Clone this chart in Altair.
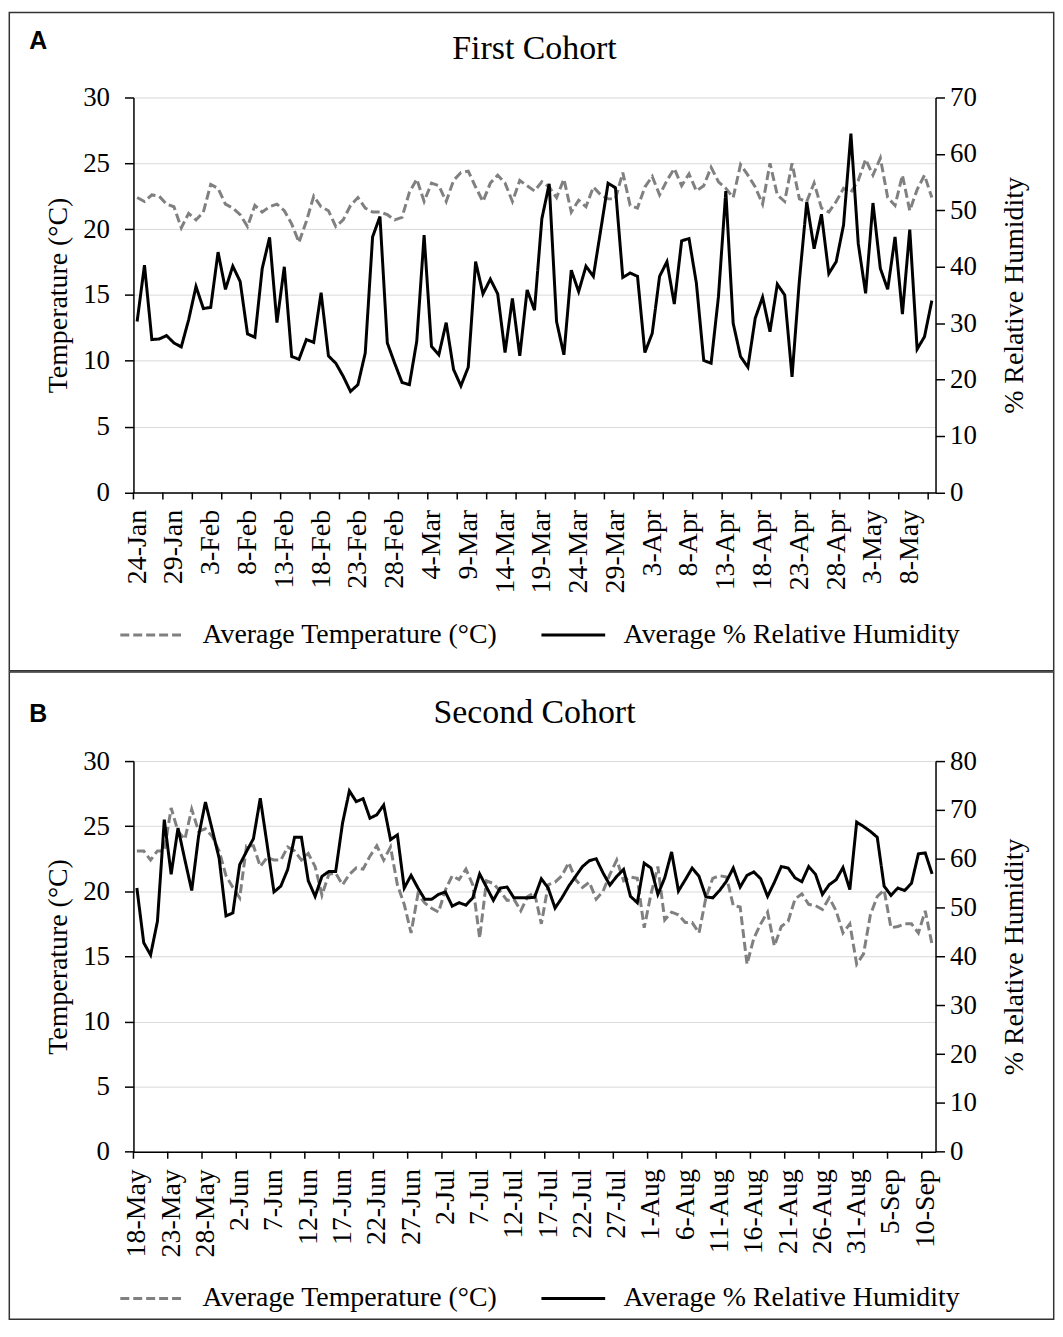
import altair as alt
import pandas as pd

SERIF = "Liberation Serif"
SANS = "Liberation Sans"
TEMP_NAME = "Average Temperature (°C)"
RH_NAME = "Average % Relative Humidity"

# ---------------- Panel A : First Cohort (daily, from 24-Jan-2020) ----------------
a_start = "2020-01-24"
a_temp = [22.4, 22.1, 22.6, 22.5, 21.9, 21.7, 20.1, 21.2, 20.7, 21.3,
          23.4, 23.1, 21.9, 21.6, 21.1, 20.2, 21.8, 21.3, 21.7, 21.9,
          21.4, 20.4, 19.0, 20.6, 22.5, 21.7, 21.4, 20.2, 20.7, 21.8,
          22.4, 21.6, 21.3, 21.3, 21.1, 20.7, 20.9, 22.8, 23.8, 22.1,
          23.5, 23.3, 22.1, 23.7, 24.3, 24.4, 23.2, 22.1, 23.5, 24.1,
          23.5, 22.1, 23.7, 23.3, 22.9, 23.6, 23.2, 22.4, 23.8, 21.3,
          22.2, 21.7, 23.2, 22.6, 22.3, 22.3, 24.3, 21.8, 21.6, 23.2,
          24.0, 22.6, 23.7, 24.6, 23.3, 24.2, 22.9, 23.3, 24.7, 23.6,
          23.1, 22.4, 24.9, 24.1, 23.2, 21.9, 25.0, 22.6, 22.1, 25.0,
          22.3, 22.1, 23.5, 21.6, 21.3, 22.1, 23.1, 22.8, 23.7, 25.3,
          24.1, 25.4, 22.4, 21.8, 24.1, 21.4, 23.0, 24.1, 22.4]
a_rh = [30.3, 40.3, 27.1, 27.2, 27.8, 26.5, 25.8, 30.6, 36.5, 32.6,
        32.8, 42.6, 36.0, 40.1, 37.4, 28.1, 27.5, 39.7, 45.2, 30.1,
        40.0, 24.1, 23.6, 27.1, 26.6, 35.4, 24.2, 22.9, 20.6, 17.9,
        19.1, 24.7, 45.3, 48.9, 26.5, 22.9, 19.5, 19.1, 26.8, 45.6,
        25.9, 24.4, 30.1, 21.8, 18.9, 22.2, 40.9, 35.2, 37.8, 35.2,
        24.8, 34.4, 24.2, 35.9, 32.3, 48.5, 54.7, 30.3, 24.4, 39.4,
        35.6, 40.1, 38.3, 46.5, 54.8, 54.0, 38.1, 38.9, 38.3, 24.8,
        28.2, 38.3, 40.9, 33.4, 44.6, 45.0, 37.1, 23.4, 22.9, 34.7,
        53.4, 30.0, 24.1, 22.2, 30.9, 34.6, 28.5, 36.9, 35.0, 20.5,
        37.6, 51.5, 43.2, 49.3, 38.8, 40.9, 47.4, 63.6, 44.1, 35.3,
        51.3, 39.7, 36.0, 45.3, 31.6, 46.6, 25.4, 27.6, 34.0]
a_labels = ["24-Jan", "29-Jan", "3-Feb", "8-Feb", "13-Feb", "18-Feb", "23-Feb",
            "28-Feb", "4-Mar", "9-Mar", "14-Mar", "19-Mar", "24-Mar", "29-Mar",
            "3-Apr", "8-Apr", "13-Apr", "18-Apr", "23-Apr", "28-Apr", "3-May", "8-May"]
a_temp_ticks = [0, 5, 10, 15, 20, 25, 30]
a_rh_ticks = [0, 10, 20, 30, 40, 50, 60, 70]

# ---------------- Panel B : Second Cohort (daily, from 18-May-2020) ----------------
b_start = "2020-05-18"
b_temp = [23.1, 23.1, 22.4, 23.1, 23.1, 26.4, 24.6, 24.0, 26.3, 24.6,
          24.8, 24.2, 23.1, 21.2, 20.3, 19.5, 23.5, 23.5, 21.9, 22.6,
          22.4, 22.4, 23.4, 23.1, 22.4, 22.9, 21.9, 19.7, 21.3, 21.4,
          20.5, 21.3, 21.8, 21.7, 22.7, 23.5, 22.4, 23.4, 20.5, 19.0,
          16.8, 19.8, 19.1, 18.7, 18.4, 20.1, 21.2, 20.9, 21.7, 20.5,
          16.4, 20.8, 20.6, 20.0, 19.3, 19.4, 18.5, 19.6, 19.9, 17.5,
          20.5, 20.7, 21.2, 22.2, 20.9, 20.3, 20.7, 19.4, 20.0, 21.3,
          22.4, 20.8, 21.1, 21.0, 17.2, 19.8, 21.9, 17.8, 18.4, 18.2,
          17.6, 17.6, 16.8, 19.5, 21.0, 21.2, 21.1, 18.9, 18.8, 14.4,
          16.4, 17.5, 18.4, 15.8, 17.3, 17.7, 19.4, 19.8, 19.0, 18.9,
          18.6, 19.5, 18.5, 16.8, 17.5, 14.4, 15.2, 18.2, 19.6, 20.1,
          17.2, 17.3, 17.5, 17.5, 16.8, 18.5, 15.9]
b_rh = [54.0, 42.8, 40.3, 47.2, 68.0, 56.8, 66.3, 59.8, 53.5, 64.6,
        71.6, 65.9, 60.1, 48.3, 48.9, 58.8, 61.5, 64.1, 72.4, 62.9,
        53.2, 54.4, 57.8, 64.4, 64.4, 55.5, 52.3, 56.4, 57.4, 57.4,
        67.3, 73.9, 71.7, 72.3, 68.3, 69.0, 71.0, 63.9, 64.9, 54.0,
        56.6, 54.0, 51.7, 51.7, 52.7, 53.2, 50.3, 51.0, 50.5, 52.0,
        56.9, 54.2, 51.5, 54.0, 54.2, 52.0, 52.0, 52.0, 52.1, 55.9,
        54.0, 49.9, 52.0, 54.4, 56.4, 58.4, 59.6, 60.0, 57.1, 54.6,
        56.4, 57.8, 52.3, 51.0, 59.1, 58.1, 52.7, 56.1, 61.4, 53.4,
        55.7, 58.1, 56.4, 52.2, 52.0, 53.5, 55.4, 58.1, 54.2, 56.6,
        57.3, 55.9, 52.3, 55.2, 58.4, 58.1, 56.1, 55.3, 58.4, 56.8,
        52.7, 54.7, 55.7, 58.2, 53.7, 67.5, 66.6, 65.6, 64.4, 54.4,
        52.5, 54.0, 53.5, 55.0, 61.0, 61.2, 56.9]
b_labels = ["18-May", "23-May", "28-May", "2-Jun", "7-Jun", "12-Jun", "17-Jun",
            "22-Jun", "27-Jun", "2-Jul", "7-Jul", "12-Jul", "17-Jul", "22-Jul",
            "27-Jul", "1-Aug", "6-Aug", "11-Aug", "16-Aug", "21-Aug", "26-Aug",
            "31-Aug", "5-Sep", "10-Sep"]
b_temp_ticks = [0, 5, 10, 15, 20, 25, 30]
b_rh_ticks = [0, 10, 20, 30, 40, 50, 60, 70, 80]

DAY = 24 * 3600 * 1000
HALF = DAY // 2


def panel(letter, title, start, temp, rh, labels, tick_every, temp_ticks, rh_ticks,
          width, height, border_top, border_bottom, letter_y):
    n = len(temp)
    dates = pd.date_range(start, periods=n, freq="D", tz="UTC")
    ms = [int(v) for v in (dates.asi8 // 10**6)]
    year = dates[0].year
    df = pd.DataFrame({"date": ms, "temp": temp, "rh": rh})
    label_ms = [int(pd.to_datetime(f"{l}-{year}", format="%d-%b-%Y", utc=True).value // 10**6)
                for l in labels]
    tick_df = pd.DataFrame({"date": [ms[i] - HALF for i in range(0, n, tick_every)]})

    xscale = alt.Scale(type="utc", domain=[ms[0] - HALF, ms[-1] + HALF], nice=False)
    xaxis = alt.Axis(values=label_ms, labelExpr="utcFormat(datum.value, '%-d-%b')",
                     labelAngle=270, ticks=False, grid=False, domainColor="black",
                     domainWidth=1.5, labelFont=SERIF, labelFontSize=28, labelColor="black",
                     labelPadding=17, labelFlush=False, labelOverlap=False, title=None)

    cscale = alt.Scale(domain=[TEMP_NAME, RH_NAME], range=["#808080", "#000000"])
    dscale = alt.Scale(domain=[TEMP_NAME, RH_NAME], range=[[9, 4], [1, 0]])
    legend = alt.Legend(title=None, orient="none", legendX=-14.7, legendY=506,
                        direction="horizontal", symbolType="stroke", symbolSize=4096,
                        symbolStrokeWidth=3, labelFont=SERIF, labelFontSize=28,
                        labelColor="black", labelLimit=600, labelOffset=17,
                        columnPadding=37, padding=0)

    axis_common = dict(domainColor="black", domainWidth=1.5, tickColor="black",
                       tickWidth=1.5, tickSize=9, labelFont=SERIF, labelFontSize=27,
                       labelColor="black", titleFont=SERIF, titleFontSize=28,
                       titleFontWeight="normal", titleColor="black", titleAngle=270,
                       titleY=height / 2, titleAlign="center", titleBaseline="middle")

    temp_line = alt.Chart(df).transform_calculate(
        series=f"'{TEMP_NAME}'"
    ).mark_line(strokeWidth=3).encode(
        x=alt.X("date:T", scale=xscale, axis=xaxis),
        y=alt.Y("temp:Q", scale=alt.Scale(domain=[0, 30], nice=False),
                axis=alt.Axis(values=temp_ticks, orient="left", grid=True,
                              gridColor="#d9d9d9", gridWidth=1, labelPadding=15,
                              title="Temperature (°C)", titleX=-75.7, **axis_common)),
        color=alt.Color("series:N", scale=cscale, legend=legend),
        strokeDash=alt.StrokeDash("series:N", scale=dscale, legend=legend),
    )

    rh_line = alt.Chart(df).transform_calculate(
        series=f"'{RH_NAME}'"
    ).mark_line(strokeWidth=3).encode(
        x=alt.X("date:T", scale=xscale, axis=xaxis),
        y=alt.Y("rh:Q", scale=alt.Scale(domain=[0, rh_ticks[-1]], nice=False),
                axis=alt.Axis(values=rh_ticks, orient="right", grid=False,
                              labelPadding=5, title="% Relative Humidity",
                              titleX=79.7, **axis_common)),
        color=alt.Color("series:N", scale=cscale, legend=legend),
        strokeDash=alt.StrokeDash("series:N", scale=dscale, legend=legend),
    )

    ticks = alt.Chart(tick_df).mark_rule(color="black", strokeWidth=1.5).encode(
        x=alt.X("date:T", scale=xscale, axis=xaxis),
        y=alt.value(height),
        y2=alt.value(height + 7),
    )

    title_layer = alt.Chart(pd.DataFrame({"t": [title]})).mark_text(
        font=SERIF, fontSize=34, color="black", align="center", baseline="alphabetic"
    ).encode(text="t:N", x=alt.value(width / 2), y=alt.value(-38.3))

    letter_layer = alt.Chart(pd.DataFrame({"t": [letter]})).mark_text(
        font=SANS, fontSize=25, fontWeight="bold", color="black", align="left",
        baseline="alphabetic"
    ).encode(text="t:N", x=alt.value(-104.7), y=alt.value(letter_y))

    border = alt.Chart(pd.DataFrame({"b": [0]})).mark_rect(
        filled=False, color="#333333", strokeWidth=1.5
    ).encode(x=alt.value(-124.7), x2=alt.value(924.3),
             y=alt.value(border_top), y2=alt.value(border_bottom))

    return alt.layer(border, temp_line, rh_line, ticks, title_layer, letter_layer).resolve_scale(
        y="independent"
    ).properties(width=width, height=height)


pa = panel("A", "First Cohort", a_start, a_temp, a_rh, a_labels, 4, a_temp_ticks, a_rh_ticks,
           805.6, 396.7, -85.3, 575.7, -48.3)
pb = panel("B", "Second Cohort", b_start, b_temp, b_rh, b_labels, 5, b_temp_ticks, b_rh_ticks,
           805.6, 392.4, -89.55, 560.7, -39.3)

chart = alt.vconcat(pa, pb, spacing=-1.5).resolve_scale(
    color="independent", strokeDash="independent"
).properties(
    padding={"left": 0, "top": 0, "right": 0, "bottom": 0}
).configure(padding=0).configure_view(strokeWidth=0)

chart.save("out.html", embed_options={"renderer": "svg", "actions": False})
